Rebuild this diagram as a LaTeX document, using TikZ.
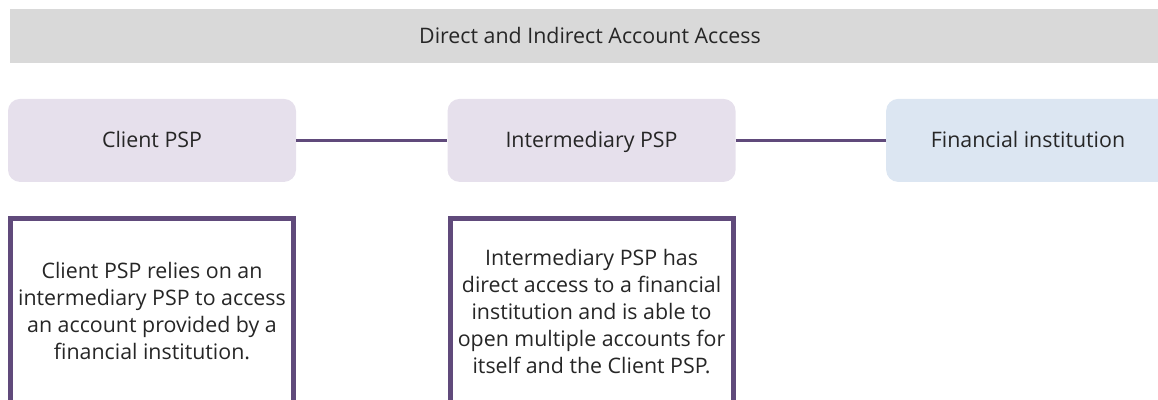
\documentclass[tikz,border=0pt]{standalone}
\usepackage{fontspec}
\setmainfont{Open Sans}
\usetikzlibrary{positioning}

\definecolor{barGray}{HTML}{D9D9D9}
\definecolor{pspLilac}{HTML}{E6E0EC}
\definecolor{instBlue}{HTML}{DCE6F2}
\definecolor{linePurple}{HTML}{604A7B}
\definecolor{textDark}{HTML}{262626}

\tikzset{
  plain/.style={text=textDark, font=\fontsize{15.2}{19.2}\selectfont,
    text height=10.6pt, text depth=0pt},
  pspbox/.style={plain, rectangle, rounded corners=0.3cm, fill=#1, minimum width=7.2cm,
    minimum height=2.075cm, inner sep=0pt},
  pspbox/.default={pspLilac},
  descbox/.style={rectangle, draw=linePurple, line width=0.125cm, fill=white,
    minimum width=7.075cm, minimum height=4.625cm, align=center, text=textDark,
    font=\fontsize{15.2}{19.2}\selectfont},
  link/.style={draw=linePurple, line width=0.075cm}
}

\begin{document}
\begin{tikzpicture}

\clip (0,0) rectangle (28.95,-9.975);
\useasboundingbox (0,0) rectangle (28.95,-9.975);

% header bar
\node[rectangle, fill=barGray, minimum width=29.1cm, minimum height=1.35cm,
  anchor=north west, inner sep=0pt] (title) at (0.25,-0.225) {};
\node[plain] (titletext) at (14.75,-0.9) {Direct and Indirect Account Access};

% the three parties
\node[pspbox] (client) at (3.8,-3.51) {Client PSP};
\node[pspbox, right=3.775cm of client] (inter) {Intermediary PSP};
\node[pspbox=instBlue, right=3.75cm of inter] (inst) {};
\node[plain] (insttext) at (25.7,-3.51) {Financial institution};

\draw[link] (client) -- (inter);
\draw[link] (inter) -- (inst);

% explanations
\node[descbox, below=0.85cm of client] (clientdesc)
  {Client PSP relies on an\\ intermediary PSP to access\\ an account provided by a\\ financial institution.};
\node[descbox, below=0.85cm of inter] (interdesc)
  {Intermediary PSP has\\ direct access to a financial\\ institution and is able to\\ open multiple accounts for\\ itself and the Client PSP.};

\end{tikzpicture}
\end{document}
